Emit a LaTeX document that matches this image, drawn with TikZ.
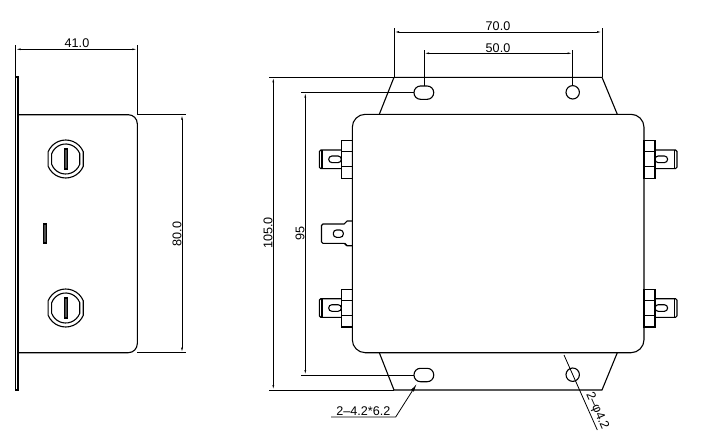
\documentclass[tikz,border=0pt]{standalone}
\usepackage{fontspec}
\setmainfont{Liberation Sans}
\usetikzlibrary{arrows.meta}
\begin{document}
\begin{tikzpicture}[x=1pt,y=-1pt,
    part/.style={draw,line width=1.1pt},
    extline/.style={draw,line width=.8pt},
    dimline/.style={draw,line width=.7pt,{Latex[length=5pt,width=1.8pt]}-{Latex[length=5pt,width=1.8pt]}},
    leader/.style={draw,line width=.8pt},
    dimtext/.style={inner sep=0pt,font=\fontsize{12.6}{14}\selectfont},
    knob/.pic={
      \draw[part] (-22.9:19) arc[start angle=-22.9,end angle=-157.1,radius=19] -- (157.1:19)
                  arc[start angle=157.1,end angle=22.9,radius=19] -- cycle;
      \draw[part] (-21:15) arc[start angle=-21,end angle=-159,radius=15] -- (159:15)
                  arc[start angle=159,end angle=21,radius=15] -- cycle;
      \draw[part,fill=black!70] (-1.6,-10) rectangle (1.6,10);
    },
    lug/.pic={
      \draw[part] (-11,-18.7) rectangle (0,19);
      \draw[part] (-11,-7.6) -- (0,-7.6) (-11,7.4) -- (0,7.4);
      \draw[part,rounded corners=1.5pt] (-11,-9.3) -- (-33,-9.3) -- (-33,9.3) -- (-11,9.3);
      \draw[part] (-30.3,-9.3) -- (-30.3,9.3);
      \draw[part,rounded corners=3.2pt] (-23.6,-3.3) rectangle (-11,3.3);
    }]
  \useasboundingbox (0,0) rectangle (702,442);

  % side view
  \draw[part] (15.5,77) rectangle (18,390);
  \draw[part,rounded corners=9pt] (18,114.7) -- (137.3,114.7) -- (137.3,352.7) -- (18,352.7);
  \pic at (65.7,159) {knob};
  \pic at (65.7,308) {knob};
  \draw[part,fill=black!70] (43.5,224) rectangle (46.7,243);

  \path (15.5,45)   coordinate (sideTL)
        (15.5,77)   coordinate (sideBL)
        (137.3,45)  coordinate (sideTR)
        (137.3,114.7) coordinate (sideBR)
        (186,114.7) coordinate (depthT)
        (186,352.7) coordinate (depthB)
        (15.5,49.3) coordinate (widthA)
        (137.3,49.3) coordinate (widthB)
        (182,114.7) coordinate (heightA)
        (182,352.7) coordinate (heightB)
        (137.3,352.7) coordinate (bodyB);
  \path[extline] (sideTL) -- (sideBL);
  \path[extline] (sideTR) -- (sideBR);
  \path[extline] (sideBR) -- (depthT);
  \path[extline] (bodyB) -- (depthB);
  \path[dimline] (widthA) -- (widthB);
  \path[dimline] (heightA) -- (heightB);
  \node[dimtext] (width41) at (77,43.5) {41.0};
  \node[dimtext,rotate=90] (height80) at (177,234) {80.0};

  % front view
  \draw[part] (394,77.3) -- (602,77.3) -- (617.3,114.3);
  \draw[part] (394,77.3) -- (379.3,114.3);
  \draw[part] (394,390) -- (602,390) -- (617.3,352.7);
  \draw[part] (394,390) -- (379.3,352.7);
  \draw[part,rounded corners=13pt] (352.3,114.3) rectangle (644,352.7);

  \draw[part,rounded corners=6.5pt] (414,86) rectangle (433.7,99.3);
  \draw[part,rounded corners=6.5pt] (414,368.3) rectangle (433.7,381.7);
  \draw[part] (572.7,92.3) circle[radius=6.7];
  \draw[part] (572.7,374.7) circle[radius=6.7];

  \pic at (352.3,159.3) {lug};
  \pic at (352.3,308) {lug};
  \pic[xscale=-1] at (644,159.3) {lug};
  \pic[xscale=-1] at (644,308) {lug};

  % middle terminal
  \draw[part,rounded corners=1.5pt] (352.3,221) -- (345.7,221) -- (345.7,224) -- (321.5,224)
        -- (321.5,243.3) -- (345.7,243.3) -- (345.7,245.7) -- (352.3,245.7);
  \draw[part,rounded corners=3.2pt] (333.3,230) rectangle (343.3,237.3);

  \path (394,28)    coordinate (pitch70TL)
        (394,77.3)  coordinate (pitch70BL)
        (602,28)    coordinate (pitch70TR)
        (602,77.3)  coordinate (pitch70BR)
        (424,50)    coordinate (pitch50TL)
        (424,86)    coordinate (pitch50BL)
        (572.7,50)  coordinate (pitch50TR)
        (572.7,86)  coordinate (pitch50BR)
        (394,32)    coordinate (dim70A)
        (602,32)    coordinate (dim70B)
        (424,53.3)  coordinate (dim50A)
        (572.7,53.3) coordinate (dim50B)
        (269.3,77.3) coordinate (ext105T)
        (269.3,390) coordinate (ext105B)
        (394,390)   coordinate (baseL)
        (273.3,77.3) coordinate (dim105A)
        (273.3,390) coordinate (dim105B)
        (301,92.5)  coordinate (ext95T)
        (414,92.5)  coordinate (slotT)
        (301,375)   coordinate (ext95B)
        (414,375)   coordinate (slotB)
        (305.3,92.5) coordinate (dim95A)
        (305.3,375) coordinate (dim95B)
        (331,417)   coordinate (slotNoteA)
        (395.7,417) coordinate (slotNoteB)
        (416.7,384) coordinate (slotNoteC)
        (564,355)   coordinate (holeNoteA)
        (597.3,430) coordinate (holeNoteB);

  \path[extline] (pitch70TL) -- (pitch70BL);
  \path[extline] (pitch70TR) -- (pitch70BR);
  \path[extline] (pitch50TL) -- (pitch50BL);
  \path[extline] (pitch50TR) -- (pitch50BR);
  \path[extline] (ext105T) -- (pitch70BL);
  \path[extline] (ext105B) -- (baseL);
  \path[extline] (ext95T) -- (slotT);
  \path[extline] (ext95B) -- (slotB);
  \path[dimline] (dim70A) -- (dim70B);
  \path[dimline] (dim50A) -- (dim50B);
  \path[dimline] (dim105A) -- (dim105B);
  \path[dimline] (dim95A) -- (dim95B);
  \path[leader,-{Latex[length=8pt,width=3.5pt]}] (slotNoteA) -- (slotNoteB) -- (slotNoteC);
  \path[leader] (holeNoteA) -- (holeNoteB);

  \node[dimtext] (width70) at (498,26.5) {70.0};
  \node[dimtext] (width50) at (498,48.5) {50.0};
  \node[dimtext,rotate=90] (height105) at (268,233) {105.0};
  \node[dimtext,rotate=90] (height95) at (300,233.7) {95};
  \node[dimtext] (slotNote) at (363.3,411.5) {2--4.2*6.2};
  \node[dimtext,rotate=-66] (holeNote) at (597,411) {2--φ4.2};
\end{tikzpicture}
\end{document}
